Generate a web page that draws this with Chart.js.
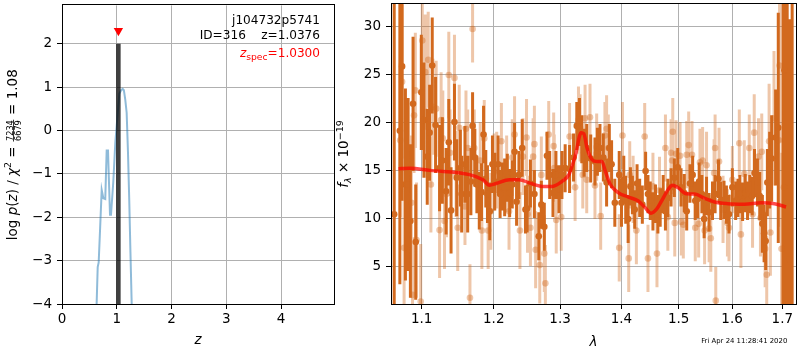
<!DOCTYPE html>
<html>
<head>
<meta charset="utf-8">
<script src="https://cdn.jsdelivr.net/npm/chart.js@4.4.0/dist/chart.umd.min.js"></script>
<style>
  html, body { margin: 0; padding: 0; background: #fff; }
  #wrap { position: relative; width: 800px; height: 350px; overflow: hidden; }
  canvas { position: absolute; top: 0; }
  #pz { left: 0; }
  #sp { left: 334px; }
</style>
</head>
<body>
<div id="wrap">
  <canvas id="pz" width="340" height="350"></canvas>
  <canvas id="sp" width="466" height="350"></canvas>
</div>
<script>
// ---------- left panel: log p(z) ----------
const zGrid = [0.600, 0.633, 0.652, 0.670, 0.694, 0.725, 0.755, 0.790, 0.816, 0.840, 0.877, 0.895, 0.937,
               0.974, 0.999, 1.047, 1.080, 1.108, 1.130, 1.155, 1.181, 1.205, 1.229, 1.250, 1.273, 1.300];
const logPz = [-5.0, -3.98, -3.15, -3.04, -2.32, -1.37, -1.56, -1.58, -0.46, -0.46, -1.94, -1.94, -1.18,
               -0.27, 0.11, 0.85, 0.93, 0.96, 0.93, 0.72, 0.41, -0.50, -1.64, -2.80, -4.00, -5.50];
const zBest = 1.03;
const zBestRange = [-4.2, 2.0];
const zSpec = 1.03;
const zSpecY = 2.3;
const zTicks = [0, 1, 2, 3, 4];
const pzTicks = [-4, -3, -2, -1, 0, 1, 2];

// ---------- right panel: spectrum ----------
const darkLam = [
  1.0641, 1.0714, 1.0743, 1.0786, 1.0821, 1.0851, 1.0886, 1.0921, 1.0995, 1.1030,
  1.1074, 1.1106, 1.1141, 1.1186, 1.1240, 1.1278, 1.1329, 1.1366, 1.1397, 1.1444,
  1.1475, 1.1526, 1.1544, 1.1590, 1.1628, 1.1673, 1.1697, 1.1729, 1.1758, 1.1792,
  1.1824, 1.1853, 1.1885, 1.1909, 1.1942, 1.1981, 1.2014, 1.2063, 1.2092, 1.2125,
  1.2159, 1.2198, 1.2232, 1.2271, 1.2305, 1.2335, 1.2370, 1.2419, 1.2468, 1.2493,
  1.2543, 1.2603, 1.2670, 1.2709, 1.2755, 1.2796, 1.2838, 1.2889, 1.2935, 1.2982,
  1.3029, 1.3080, 1.3150, 1.3213, 1.3265, 1.3308, 1.3345, 1.3382, 1.3425, 1.3490,
  1.3559, 1.3599, 1.3641, 1.3697, 1.3751, 1.3796, 1.3834, 1.3888, 1.3962, 1.4000,
  1.4039, 1.4072, 1.4113, 1.4152, 1.4186, 1.4225, 1.4266, 1.4311, 1.4357, 1.4414,
  1.4455, 1.4495, 1.4542, 1.4587, 1.4629, 1.4670, 1.4723, 1.4763, 1.4806, 1.4864,
  1.4923, 1.4984, 1.5044, 1.5103, 1.5147, 1.5207, 1.5256, 1.5304, 1.5348, 1.5377,
  1.5427, 1.5469, 1.5514, 1.5562, 1.5626, 1.5675, 1.5739, 1.5782, 1.5845, 1.5891,
  1.5940, 1.6005, 1.6069, 1.6113, 1.6151, 1.6204, 1.6256, 1.6301, 1.6346, 1.6393,
  1.6438, 1.6497, 1.6543, 1.6596, 1.6630, 1.6662, 1.6696, 1.6742, 1.6782, 1.6863,
  1.6917, 1.7013, 1.7045, 1.7100, 1.7148, 1.7203
];
const darkFlux = [
  10.4, 19.1, 25.8, 13.5, 13.5, 9.7, 21.9, 7.5, 23.1, 20.2,
  16.4, 18.9, 25.9, 19.7, 15.2, 16.0, 12.8, 17.9, 10.8, 20.0,
  14.2, 15.2, 12.5, 15.6, 12.5, 13.8, 19.6, 16.3, 13.5, 11.8,
  12.7, 18.7, 14.1, 12.5, 10.7, 15.6, 13.8, 15.6, 12.5, 13.3,
  13.2, 14.2, 12.6, 13.5, 16.9, 11.7, 14.5, 17.3, 10.9, 11.0,
  13.6, 12.5, 8.1, 11.4, 9.1, 16.5, 14.5, 12.6, 14.5, 13.0,
  14.5, 15.2, 15.1, 16.3, 19.6, 20.0, 18.2, 16.8, 17.3, 16.2,
  15.9, 16.9, 17.3, 16.3, 13.7, 17.3, 15.6, 11.6, 14.5, 11.6,
  14.0, 11.9, 9.9, 13.3, 12.4, 10.9, 13.6, 12.1, 11.4, 14.9,
  12.5, 11.8, 10.7, 11.5, 10.4, 11.1, 12.5, 10.7, 12.1, 13.2,
  14.2, 15.3, 13.2, 12.6, 10.7, 13.6, 14.5, 11.8, 12.0, 13.8,
  12.5, 9.9, 12.3, 10.6, 11.8, 12.5, 14.1, 11.8, 11.9, 11.4,
  10.4, 13.2, 11.8, 12.1, 12.5, 11.7, 12.6, 11.8, 12.5, 12.3,
  14.7, 13.7, 12.3, 9.4, 8.4, 7.6, 13.7, 15.0, 16.2, 18.4,
  19.4, 35.0, 25.4, 35.0, 5.7, -2.0
];
const darkErr = [
  24, 16, 14, 10, 9, 8, 7, 6, 6, 6,
  5, 5, 5, 5, 4.5, 4.5, 4.5, 4.5, 4.5, 4,
  4, 4, 4, 4, 4, 3.5, 3.5, 3, 3, 3,
  3, 3, 3, 3, 3, 3, 3, 3, 2.5, 2.5,
  3, 2.5, 2.5, 2.5, 3, 2.5, 2.5, 3, 2.5, 2.5,
  2.5, 2.5, 2.5, 2.5, 2.5, 2.5, 2.5, 2.5, 2.5, 2.5,
  2.5, 2.5, 2.5, 2.5, 2.5, 2.5, 2.5, 2.5, 2.5, 2.5,
  2.5, 2.5, 2.5, 2.5, 2.5, 2.5, 2.5, 2.5, 2.5, 2.5,
  2.5, 2.5, 2.5, 2, 2, 2, 2, 2, 2, 2,
  2, 2, 2, 2, 2, 2, 2, 2, 2, 2,
  2, 2, 2, 2, 2, 2, 2, 2, 2, 2,
  2, 2, 2, 2, 2, 2, 2, 2, 2, 2,
  2, 2, 2, 2, 2, 2, 2, 2, 2, 2,
  2.5, 2.5, 2.5, 3, 3, 3, 3.5, 4, 4.5, 5,
  12, 40, 25, 40, 25, 35
];

const lightLam = [
  1.0718, 1.0743, 1.0769, 1.0864, 1.0879, 1.0899, 1.0916, 1.0932, 1.0987, 1.1008,
  1.1048, 1.1087, 1.1123, 1.1150, 1.1194, 1.1240, 1.1261, 1.1284, 1.1307, 1.1334,
  1.1366, 1.1383, 1.1444, 1.1466, 1.1489, 1.1510, 1.1590, 1.1604, 1.1628, 1.1660,
  1.1697, 1.1721, 1.1806, 1.1829, 1.1863, 1.1919, 1.1957, 1.2005, 1.2043, 1.2111,
  1.2188, 1.2223, 1.2271, 1.2305, 1.2385, 1.2430, 1.2484, 1.2499, 1.2543, 1.2584,
  1.2603, 1.2622, 1.2685, 1.2709, 1.2755, 1.2771, 1.2823, 1.2900, 1.2909, 1.2940,
  1.3018, 1.3150, 1.3238, 1.3292, 1.3318, 1.3361, 1.3398, 1.3425, 1.3478, 1.3559,
  1.3587, 1.3653, 1.3723, 1.3751, 1.3779, 1.3962, 1.4017, 1.4123, 1.4140, 1.4198,
  1.4254, 1.4398, 1.4455, 1.4542, 1.4613, 1.4658, 1.4763, 1.4806, 1.4864, 1.4882,
  1.4894, 1.4930, 1.4953, 1.5026, 1.5049, 1.5085, 1.5147, 1.5183, 1.5244, 1.5304,
  1.5367, 1.5391, 1.5441, 1.5478, 1.5514, 1.5562, 1.5594, 1.5656, 1.5675, 1.5688,
  1.5750, 1.5826, 1.5910, 1.5940, 1.6005, 1.6140, 1.6171, 1.6237, 1.6335, 1.6400,
  1.6433, 1.6518, 1.6557, 1.6583, 1.6651, 1.6683, 1.6731, 1.6757, 1.6830, 1.6931,
  1.6943, 1.6984, 1.7033
];
const lightFlux = [
  18.1, 24.2, 6.9, 11.6, 2.0, 20.7, 23.3, 7.7, 1.3, 28.5,
  25.2, 26.5, 13.5, 21.6, 21.4, 8.75, 20.2, 18.3, 9.7, 12.5,
  24.9, 16.8, 24.6, 14.6, 9.0, 19.4, 11.2, 19.3, 17.3, 1.7,
  29.7, 17.3, 16.0, 8.7, 18.3, 8.7, 10.7, 14.8, 15.0, 18.0,
  14.6, 10.7, 16.3, 18.7, 8.7, 16.4, 18.4, 10.4, 9.0, 16.4,
  17.7, 6.7, 5.1, 14.5, 6.3, 3.2, 18.7, 17.5, 15.2, 9.8,
  10.1, 18.5, 13.2, 20.2, 19.4, 14.5, 20.4, 14.0, 20.5, 13.4,
  17.4, 10.2, 18.6, 19.3, 17.3, 6.9, 18.6, 5.8, 14.5, 13.0,
  8.7, 18.5, 5.8, 13.3, 6.3, 12.9, 17.3, 10.1, 16.8, 16.0,
  19.0, 9.5, 16.7, 16.5, 9.6, 9.3, 16.6, 17.6, 16.6, 9.0,
  9.4, 15.8, 16.0, 8.7, 15.5, 8.9, 7.9, 14.7, 17.3, 1.4,
  15.9, 10.9, 9.5, 9.0, 14.0, 17.8, 8.3, 14.6, 17.3, 10.4,
  18.9, 16.4, 10.0, 16.9, 6.8, 4.1, 18.0, 8.5, 20.4, 18.1,
  25.9, 6.8, 13.2
];
const lightErr = [
  8, 8, 7, 7, 6, 6, 6, 6, 6, 6,
  6, 5, 5, 5, 5, 5, 5, 5, 5, 4.5,
  4.5, 4.5, 4.5, 4.5, 4.5, 4.5, 4, 4, 4, 3.5,
  3.5, 4, 4, 4, 4, 4, 4, 4, 4, 4,
  4, 4, 4, 4, 4, 4, 4, 4, 4, 4,
  4, 4, 4, 4, 4, 4, 3.5, 3.5, 3.5, 3.5,
  3.5, 3.5, 3.5, 3.5, 3.5, 3.5, 3.5, 3.5, 3.5, 3.5,
  3.5, 3.5, 3.5, 3.5, 3.5, 3.5, 3.5, 3.5, 3.5, 3.5,
  3.5, 3.5, 3.5, 3.5, 3.5, 3.5, 3.5, 3.5, 3.5, 3.5,
  3.5, 3.5, 3.5, 3.5, 3.5, 3.5, 3.5, 3.5, 3.5, 3.5,
  3.5, 3.5, 3.5, 3.5, 3.5, 3.5, 3.5, 3.5, 3.5, 3.5,
  3.5, 3.5, 3.5, 3.5, 3.5, 3.5, 3.5, 3.5, 3.5, 3.5,
  4, 4, 4, 4, 4, 4, 6, 4.5, 7, 9,
  8, 10, 12
];

const modelLam = [
  1.0696, 1.0847, 1.1110, 1.1655, 1.1843, 1.1938, 1.2034, 1.2228, 1.2375, 1.2525,
  1.2726, 1.2879, 1.3034, 1.3139, 1.3245, 1.3334, 1.3378, 1.3430, 1.3511, 1.3592,
  1.3674, 1.3730, 1.3813, 1.3951, 1.4119, 1.4289, 1.4404, 1.4508, 1.4606, 1.4694,
  1.4812, 1.4889, 1.4991, 1.5140, 1.5293, 1.5478, 1.5665, 1.5917, 1.6240, 1.6570,
  1.6840, 1.7077
];
const modelFlux = [
  15.15, 15.2, 14.97, 14.53, 14.0, 13.43, 13.6, 14.0, 14.0, 13.67,
  13.3, 13.3, 13.84, 14.53, 16.6, 18.9, 18.8, 17.3, 16.1, 15.9,
  15.9, 14.87, 13.5, 12.63, 12.19, 11.78, 11.09, 10.5, 10.92, 11.78,
  12.98, 13.43, 13.15, 12.53, 12.5, 12.05, 11.67, 11.5, 11.45, 11.6,
  11.5, 11.16
];
const lamTicks = [1.1, 1.2, 1.3, 1.4, 1.5, 1.6, 1.7];
const fluxTicks = [5, 10, 15, 20, 25, 30];

// ---------- styling ----------
const FAM = "'DejaVu Sans', sans-serif";
const DARK = 'rgb(210,105,30)';
const LIGHT = 'rgba(210,105,30,0.38)';
Chart.defaults.font.family = FAM;
Chart.defaults.color = '#000';
Chart.defaults.animation = false;

const F = (size, style) => (style ? style + ' ' : '') + size + 'px ' + FAM;
const minus = v => (v < 0 ? '\u2212' : '') + Math.abs(v);

// draw a row of text runs: [text, font, dy] or {frac:[num, den], font}
function runs(c, list, x, y, align) {
  const widths = list.map(r => {
    if (r.frac) { c.font = r.font; return Math.max(c.measureText(r.frac[0]).width, c.measureText(r.frac[1]).width) + 2; }
    c.font = r[1]; return c.measureText(r[0]).width;
  });
  const total = widths.reduce((a, b) => a + b, 0);
  let cx = align === 'right' ? x - total : align === 'center' ? x - total / 2 : x;
  c.textAlign = 'left';
  list.forEach((r, i) => {
    if (r.frac) {
      c.font = r.font;
      const w = widths[i];
      const wn = c.measureText(r.frac[0]).width, wd = c.measureText(r.frac[1]).width;
      c.fillText(r.frac[0], cx + (w - wn) / 2, y - 4);
      c.fillText(r.frac[1], cx + (w - wd) / 2, y + 4.5);
      c.fillRect(cx + 0.5, y - 3.3, w - 1, 0.8);
    } else {
      c.font = r[1];
      c.fillText(r[0], cx, y + (r[2] || 0));
    }
    cx += widths[i];
  });
}

function errSegments(xs, ys, es) {
  const pts = [];
  xs.forEach((x, i) => {
    pts.push({ x: x, y: ys[i] - es[i] }, { x: x, y: ys[i] + es[i] }, { x: x, y: null });
  });
  return pts;
}
const pairs = (xs, ys) => xs.map((x, i) => ({ x: x, y: ys[i] }));

function axis(type, min, max, ticks, fmt, fitSize, horizontal) {
  return {
    type: type, min: min, max: max,
    afterBuildTicks: s => { s.ticks = ticks.map(v => ({ value: v })); },
    afterFit: s => {
      if (horizontal) s.height = fitSize; else s.width = fitSize;
      s.paddingTop = 0; s.paddingBottom = 0; s.paddingLeft = 0; s.paddingRight = 0;
    },
    grid: { color: '#b0b0b0', lineWidth: 1, tickColor: '#000', tickLength: 5, tickWidth: 1 },
    border: { display: true, color: '#000', width: 1 },
    ticks: { color: '#000', font: { size: 13.5 }, padding: horizontal ? 2 : 5, maxRotation: 0, autoSkip: false, callback: fmt }
  };
}

const frame = {
  id: 'frame',
  afterDraw(chart) {
    const a = chart.chartArea, c = chart.ctx;
    c.save();
    c.strokeStyle = '#000';
    c.lineWidth = 1;
    c.strokeRect(Math.round(a.left) + 0.5, Math.round(a.top) - 0.5, Math.round(a.right - a.left), Math.round(a.bottom - a.top) + 1);
    c.restore();
  }
};

// ---------- left chart ----------
new Chart(document.getElementById('pz'), {
  type: 'scatter',
  data: {
    datasets: [
      { data: [{ x: zSpec, y: zSpecY }], pointStyle: 'triangle', rotation: 180, pointRadius: 5.4,
        backgroundColor: 'red', borderColor: 'red', borderWidth: 0, order: 0, clip: false },
      { data: [{ x: zBest, y: zBestRange[0] }, { x: zBest, y: zBestRange[1] }], showLine: true,
        borderColor: 'rgba(0,0,0,0.75)', borderWidth: 4.5, borderCapStyle: 'butt', pointRadius: 0, order: 1, clip: 0 },
      { data: pairs(zGrid, logPz), showLine: true, borderColor: 'rgba(31,119,180,0.5)', borderWidth: 2,
        pointRadius: 0, tension: 0, order: 2, clip: 0 }
    ]
  },
  options: {
    responsive: false, events: [],
    layout: { padding: { top: 1, right: 6, left: 0, bottom: 0 } },
    plugins: { legend: { display: false }, tooltip: { enabled: false } },
    scales: {
      x: axis('linear', 0, 4.968, zTicks, v => minus(v), 46, true),
      y: axis('linear', -4, 2.886, pzTicks, v => minus(v), 62, false)
    }
  },
  plugins: [frame, {
    id: 'pzText',
    afterDraw(chart) {
      const c = chart.ctx, a = chart.chartArea;
      c.save();
      c.fillStyle = '#000';
      c.textBaseline = 'alphabetic';
      const R = a.right - 14;
      runs(c, [['j104732p5741', F(12.1)]], R, 24, 'right');
      runs(c, [['ID=316    z=1.0376', F(12.1)]], R, 39.3, 'right');
      c.fillStyle = 'red';
      runs(c, [['z', F(12.1, 'italic')], ['spec', F(9.2), 2.5], ['=1.0300', F(12.1)]], R, 57.3, 'right');
      c.fillStyle = '#000';
      runs(c, [['z', F(13.5, 'italic')]], (a.left + a.right) / 2, 344, 'center');
      c.translate(16.5, (a.top + a.bottom) / 2);
      c.rotate(-Math.PI / 2);
      runs(c, [
        ['log ', F(13.5)], ['p', F(13.5, 'italic')], ['(', F(13.5)], ['z', F(13.5, 'italic')], [') / ', F(13.5)],
        ['\u03c7', F(13.5, 'italic')], ['2', F(9.5), -5.5], [' = ', F(13.5)],
        { frac: ['7234', '6679'], font: F(8.2) },
        [' = 1.08', F(13.5)]
      ], 0, 0, 'center');
      c.restore();
    }
  }]
});

// ---------- right chart ----------
new Chart(document.getElementById('sp'), {
  type: 'scatter',
  data: {
    datasets: [
      { data: pairs(modelLam, modelFlux), showLine: true, borderColor: 'rgba(255,0,0,0.7)', borderWidth: 3.5,
        pointRadius: 0, cubicInterpolationMode: 'monotone', order: 0, clip: 0 },
      { data: pairs(lightLam, lightFlux), pointRadius: 3.3, backgroundColor: LIGHT, borderWidth: 0, order: 1, clip: 0 },
      { data: errSegments(lightLam, lightFlux, lightErr), showLine: true, spanGaps: false, borderColor: LIGHT,
        borderWidth: 3, borderCapStyle: 'butt', pointRadius: 0, order: 2, clip: 0 },
      { data: pairs(darkLam, darkFlux), pointRadius: 3.3, backgroundColor: DARK, borderWidth: 0, order: 3, clip: 0 },
      { data: errSegments(darkLam, darkFlux, darkErr), showLine: true, spanGaps: false, borderColor: DARK,
        borderWidth: 3, borderCapStyle: 'butt', pointRadius: 0, order: 4, clip: 0 }
    ]
  },
  options: {
    responsive: false, events: [],
    layout: { padding: { top: 1, right: 1, left: 0, bottom: 0 } },
    plugins: { legend: { display: false }, tooltip: { enabled: false } },
    scales: {
      x: axis('logarithmic', 1.06, 1.7283, lamTicks, v => Number(v).toFixed(1), 46, true),
      y: axis('linear', 1.05, 32.3, fluxTicks, v => String(v), 57, false)
    }
  },
  plugins: [frame, {
    id: 'spText',
    afterDraw(chart) {
      const c = chart.ctx, a = chart.chartArea;
      c.save();
      c.fillStyle = '#000';
      c.textBaseline = 'alphabetic';
      runs(c, [['\u03bb', F(13.5, 'italic')]], (a.left + a.right) / 2, 345.5, 'center');
      runs(c, [['Fri Apr 24 11:28:41 2020', F(6.9)]], 744.2 - 334, 343, 'center');
      c.translate(348 - 334, (a.top + a.bottom) / 2);
      c.rotate(-Math.PI / 2);
      runs(c, [['f', F(13.5, 'italic')], ['\u03bb', F(9.5, 'italic'), 3], [' \u00d7 10', F(13.5)], ['\u221219', F(9.5), -5.5]], 0, 0, 'center');
      c.restore();
    }
  }]
});
</script>
</body>
</html>
